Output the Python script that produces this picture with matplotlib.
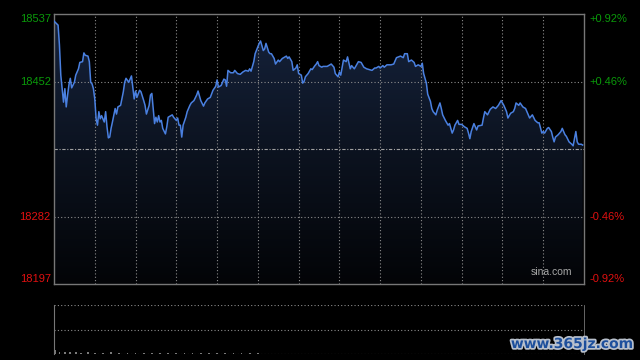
import numpy as np
import matplotlib.pyplot as plt
from matplotlib import patheffects
from matplotlib.colors import LinearSegmentedColormap

# intraday index, minutes since open (13 half-hour blocks)
minutes = [0, 3, 4, 5, 7, 8, 9, 10, 11, 12, 13, 15, 16, 18, 19, 21, 22, 23, 25, 26,
           27, 28, 29, 30, 31, 32, 33, 34, 35, 37, 38, 39, 40, 41, 42, 43, 45, 46, 47, 49,
           51, 52, 53, 55, 57, 58, 59, 60, 61, 63, 64, 66, 67, 68, 70, 71, 72, 73, 74, 75,
           76, 77, 78, 79, 80, 82, 83, 84, 86, 87, 88, 90, 91, 92, 93, 94, 95, 97, 98, 100,
           101, 103, 105, 106, 108, 110, 111, 113, 115, 117, 119, 120, 121, 123, 125, 126, 127, 128, 130, 132,
           133, 135, 137, 139, 141, 143, 144, 145, 147, 148, 151, 152, 154, 155, 156, 158, 159, 160, 162, 163,
           165, 166, 168, 169, 171, 172, 173, 175, 176, 178, 179, 180, 182, 183, 184, 185, 187, 189, 190, 192,
           193, 194, 195, 197, 198, 201, 204, 206, 207, 209, 210, 211, 213, 215, 216, 218, 219, 221, 223, 224,
           226, 228, 230, 232, 234, 236, 237, 239, 240, 242, 243, 245, 248, 250, 252, 255, 257, 258, 260, 261,
           263, 265, 266, 268, 270, 271, 272, 274, 275, 277, 278, 279, 281, 282, 284, 285, 286, 288, 290, 291,
           293, 294, 295, 297, 298, 300, 302, 304, 305, 306, 307, 309, 311, 312, 315, 316, 317, 319, 321, 323,
           325, 327, 329, 331, 333, 334, 336, 338, 339, 340, 342, 343, 345, 347, 348, 350, 352, 354, 356, 357,
           359, 360, 361, 363, 364, 366, 367, 368, 369, 371, 373, 374, 376, 377, 379, 381, 382, 384, 385, 386,
           388, 389]
prices = [18528, 18523, 18498, 18460, 18426, 18443, 18420, 18435, 18448, 18456, 18444, 18451, 18460, 18468, 18476, 18477, 18488, 18485, 18484, 18477,
          18451, 18449, 18443, 18430, 18405, 18397, 18414, 18405, 18409, 18401, 18414, 18395, 18381, 18382, 18393, 18401, 18418, 18411, 18420, 18422,
          18439, 18451, 18456, 18451, 18459, 18445, 18430, 18440, 18432, 18441, 18439, 18428, 18422, 18411, 18422, 18435, 18437, 18418, 18399, 18407,
          18401, 18409, 18401, 18403, 18393, 18386, 18395, 18407, 18409, 18410, 18407, 18403, 18406, 18397, 18397, 18382, 18397, 18407, 18414, 18422,
          18425, 18428, 18435, 18440, 18428, 18421, 18425, 18430, 18432, 18441, 18446, 18454, 18445, 18447, 18455, 18454, 18446, 18466, 18463, 18463,
          18466, 18462, 18461, 18464, 18466, 18465, 18468, 18465, 18477, 18487, 18500, 18503, 18491, 18493, 18500, 18489, 18487, 18487, 18481, 18474,
          18479, 18477, 18481, 18482, 18484, 18481, 18483, 18477, 18466, 18469, 18473, 18462, 18460, 18450, 18452, 18458, 18462, 18468, 18467, 18472,
          18474, 18477, 18472, 18470, 18471, 18471, 18474, 18470, 18462, 18458, 18464, 18460, 18479, 18477, 18483, 18468, 18472, 18468, 18474, 18477,
          18476, 18470, 18468, 18467, 18466, 18469, 18469, 18471, 18469, 18472, 18470, 18473, 18473, 18474, 18482, 18484, 18482, 18487, 18487, 18477,
          18479, 18476, 18471, 18473, 18471, 18475, 18462, 18450, 18436, 18427, 18418, 18414, 18410, 18416, 18425, 18418, 18410, 18403, 18397, 18399,
          18387, 18391, 18397, 18403, 18398, 18398, 18395, 18393, 18387, 18380, 18389, 18399, 18391, 18396, 18397, 18406, 18414, 18410, 18417, 18420,
          18418, 18422, 18428, 18422, 18414, 18406, 18412, 18414, 18418, 18425, 18422, 18425, 18420, 18418, 18414, 18406, 18410, 18403, 18400, 18400,
          18387, 18389, 18387, 18393, 18394, 18389, 18382, 18376, 18382, 18385, 18389, 18393, 18385, 18383, 18376, 18373, 18371, 18389, 18376, 18373,
          18373, 18372]

prev_close = 18367
left_ticks = [18537, 18452, 18282, 18197]
right_ticks = ['+0.92%', '+0.46%', '-0.46%', '-0.92%']
tick_colors = ['#0a9a0a', '#0a9a0a', '#e01010', '#e01010']

vol_minutes = [1, 4, 8, 12, 16, 20, 25, 30, 36, 42, 48, 54, 60, 66, 72, 78, 84, 90, 96, 102,
               108, 114, 120, 126, 132, 138, 144, 150]
volumes = [9, 5, 4, 5, 4, 3, 4, 3, 3, 4, 3, 3, 3, 2, 3, 3, 2, 3, 2, 2,
           3, 2, 2, 2, 2, 3, 2, 2]

plt.rcParams['font.family'] = ['Liberation Sans', 'DejaVu Sans']

fig = plt.figure(figsize=(6.4, 3.6), dpi=100, facecolor='black')
ax = fig.add_axes([54 / 640, 76 / 360, 530 / 640, 270 / 360])
ax.set_facecolor('black')
ax.set_xlim(0, 390)
ax.set_ylim(18197, 18537)

# gradient under the line
cmap = LinearSegmentedColormap.from_list('navy', ['#030407', '#0c1320', '#16233d'])
grad = np.linspace(1, 0, 256).reshape(-1, 1)
im = ax.imshow(grad, cmap=cmap, extent=[0, 390, 18197, 18537], aspect='auto', zorder=1)
area = ax.fill_between(minutes, prices, 18197, color='none', lw=0)
im.set_clip_path(area.get_paths()[0], transform=ax.transData)

grid_c = '#8c8c8c'
for m in range(30, 390, 30):
    ax.axvline(m, color=grid_c, lw=0.8, ls=(0, (1, 2)), zorder=2)
for v in [18282, 18452]:
    ax.axhline(v, color=grid_c, lw=0.8, ls=(0, (1, 2)), zorder=2)
ax.axhline(prev_close, color='#a0a0a0', lw=0.8, ls=(0, (3, 1.5, 1, 1.5)), zorder=2)

ax.plot(minutes, prices, color='#4a80e0', lw=1.1, zorder=3)

for s in ax.spines.values():
    s.set_color('#777777')
    s.set_linewidth(1.0)
ax.set_xticks([])
ax.set_yticks([])

ytr = ax.get_yaxis_transform()
vas = ['top', 'center', 'center', 'bottom']
for v, pct, c, va in zip(left_ticks, right_ticks, tick_colors, vas):
    ax.text(-0.006, v, str(v), transform=ytr, ha='right', va=va, color=c, fontsize=8)
    ax.text(1.011, v, pct, transform=ytr, ha='left', va=va, color=c, fontsize=8)

ax.text(0.978, 0.025, 'sina.com', transform=ax.transAxes, ha='right', va='bottom',
        color='#a8a8a8', fontsize=7.5, zorder=4)

# volume panel
vax = fig.add_axes([54 / 640, 6 / 360, 530 / 640, 49 / 360])
vax.set_facecolor('black')
vax.set_xlim(0, 390)
vax.set_ylim(0, 100)
vax.bar(vol_minutes, volumes, width=1.2, color='#7a7a7a', zorder=2)
for v in [0, 50, 100]:
    vax.axhline(v, color=grid_c, lw=0.8, ls=(0, (1, 2)), zorder=1)
vax.spines['top'].set_visible(False)
vax.spines['bottom'].set_visible(False)
vax.spines['left'].set_color('#777777')
vax.spines['right'].set_color('#777777')
vax.spines['right'].set_linewidth(0.6)
vax.set_xticks([])
vax.set_yticks([])

wm = fig.text(633 / 640, 16 / 360, 'www.365jz.com', ha='right', va='center',
              color='#1d4f9c', fontsize=10, fontweight='bold', family=['DejaVu Sans'])
wm.set_path_effects([patheffects.withStroke(linewidth=2.5, foreground='#b8c0cc')])

fig.savefig('out.png', dpi=100, facecolor='black')
